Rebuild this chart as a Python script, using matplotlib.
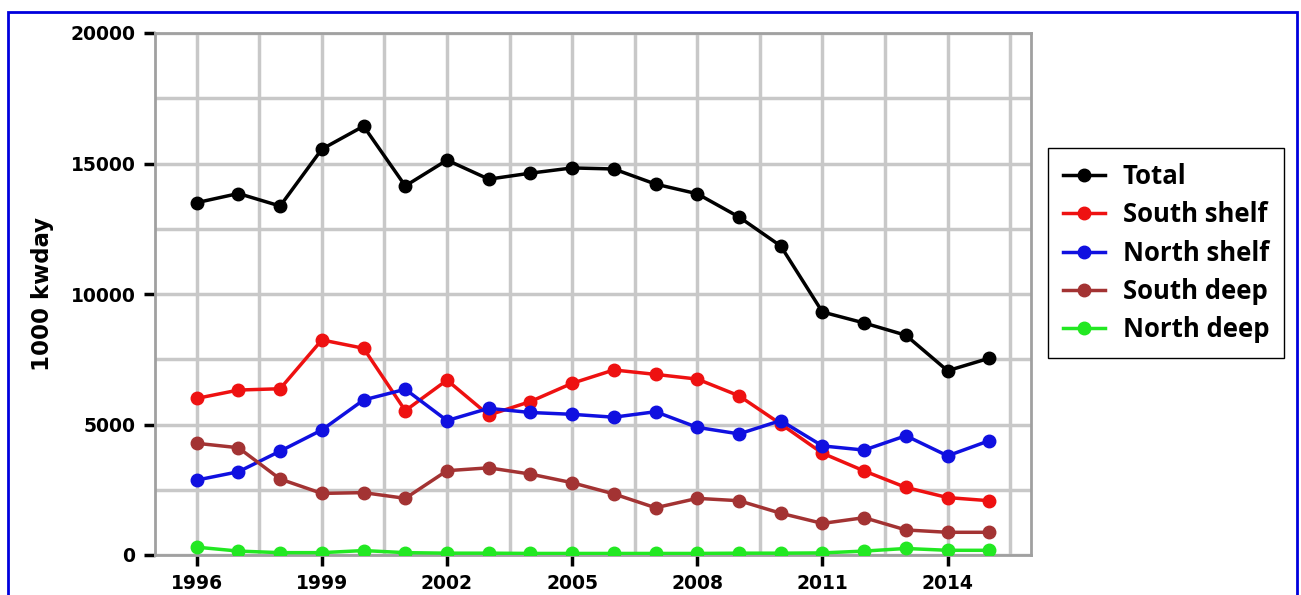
import numpy as np
import matplotlib
matplotlib.use("Agg")
import matplotlib.pyplot as plt
from matplotlib.patches import Rectangle

# Years and series values (1000 kwday)
years = list(range(1996, 2016))
total = [13500, 13850, 13370, 15550, 16430, 14140, 15130, 14400, 14630, 14830,
         14790, 14210, 13840, 12950, 11840, 9310, 8890, 8420, 7060, 7540]
south_shelf = [6000, 6320, 6370, 8240, 7920, 5530, 6700, 5360, 5880, 6580,
               7090, 6920, 6740, 6100, 5020, 3900, 3220, 2590, 2200, 2080]
north_shelf = [2870, 3190, 3980, 4790, 5940, 6350, 5150, 5620, 5460, 5390,
               5280, 5490, 4890, 4640, 5150, 4180, 4020, 4570, 3800, 4380]
south_deep = [4280, 4110, 2910, 2360, 2390, 2170, 3230, 3340, 3100, 2770,
              2340, 1810, 2170, 2080, 1600, 1210, 1430, 960, 870, 870]
north_deep = [300, 150, 90, 90, 170, 90, 70, 70, 60, 60,
              60, 60, 60, 70, 70, 80, 150, 250, 180, 180]

series_names = ["Total", "South shelf", "North shelf", "South deep", "North deep"]
series_colors = ["#000000", "#ee1111", "#1010e0", "#a33333", "#22e822"]
x_ticks = [1996, 1999, 2002, 2005, 2008, 2011, 2014]
y_ticks = [0, 5000, 10000, 15000, 20000]

fig = plt.figure(figsize=(13.01, 5.95), dpi=100)
ax = fig.add_axes([155 / 1301, 1 - 555 / 595, (1031 - 155) / 1301, (555 - 33) / 595])

# Draw each series
for vals, name, col in zip([total, south_shelf, north_shelf, south_deep, north_deep],
                           series_names, series_colors):
    ax.plot(years, vals, color=col, marker="o", markersize=9, linewidth=2.5,
            label=name, zorder=3)

ax.set_xlim(1995, 2016)
ax.set_ylim(0, 20000)

# major ticks with labels, minor ticks carry the grid (keep the ones on top of majors)
ax.set_xticks(x_ticks)
ax.set_yticks(y_ticks)
ax.set_xticks(np.arange(1996, 2016, 1.5), minor=True)
ax.set_yticks(np.arange(0, 20001, 2500), minor=True)
ax.xaxis.remove_overlapping_locs = False
ax.yaxis.remove_overlapping_locs = False
ax.grid(which="minor", color="#c8c8c8", linewidth=2.5, zorder=0)
ax.set_axisbelow(True)
ax.tick_params(which="minor", length=0)
ax.tick_params(which="major", length=8, width=2.5, color="black", pad=6,
               labelsize=13.5)

for lbl in ax.get_xticklabels() + ax.get_yticklabels():
    lbl.set_fontfamily("DejaVu Sans")
    lbl.set_fontweight("bold")

for sp in ax.spines.values():
    sp.set_color("#a0a0a0")
    sp.set_linewidth(2)

ax.set_ylabel("1000 kwday", fontsize=16.5, fontweight="bold", family="DejaVu Sans",
              labelpad=12)

# Legend outside the plot on the right
leg = ax.legend(loc="upper left", bbox_to_anchor=(1048 / 1301, 1 - 148 / 595),
                bbox_transform=fig.transFigure, borderaxespad=0,
                prop={"family": "Open Sans", "weight": "bold", "size": 18.5},
                handlelength=1.6, handletextpad=0.7, labelspacing=0.43,
                borderpad=0.6, fancybox=False, edgecolor="black", framealpha=1)
leg.get_frame().set_linewidth(1.0)

# Blue border round the picture
fig.patches.append(Rectangle((8 / 1301, -0.05), (1297 - 8) / 1301, 1.05 - 12 / 595,
                             transform=fig.transFigure, fill=False,
                             edgecolor="#0000dd", linewidth=2))

fig.savefig("out.png", dpi=100)
